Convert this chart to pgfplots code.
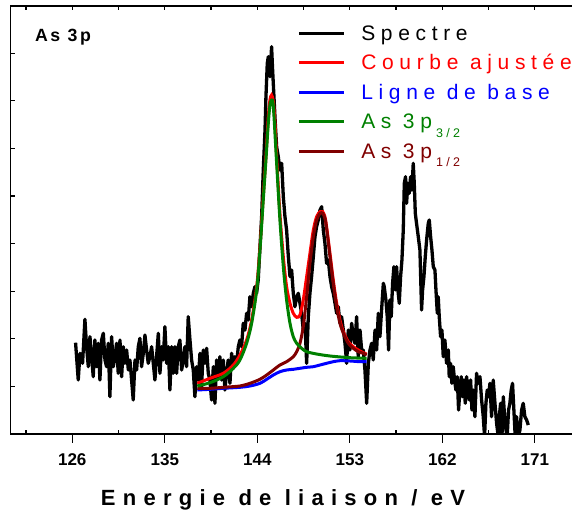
\documentclass[border=0pt]{standalone}
\usepackage{pgfplots}
\pgfplotsset{compat=1.18}
\usepackage{fontspec}
\setmainfont{Liberation Sans}
\newfontfamily\legfont{Liberation Sans}[LetterSpace=27]
\newfontfamily\labfont{Liberation Sans}[LetterSpace=33]
\newfontfamily\asfont{Liberation Sans}[LetterSpace=14]
\definecolor{fitgreen}{RGB}{0,128,0}
\definecolor{fitbrown}{RGB}{128,0,0}
\definecolor{fitred}{RGB}{255,0,0}
\definecolor{fitblue}{RGB}{0,0,255}
\pgfplotsset{
 base/.style={scale only axis, width=570.5pt, height=428pt,
   xmin=120, xmax=175.5, ymin=0, ymax=428,
   axis line style={line width=1.2pt},
   tick style={line width=1.2pt, black},
   /pgf/number format/assume math mode=true},
}
\begin{document}
\begin{tikzpicture}
\path[use as bounding box] (-10.6pt,-75pt) rectangle (561.4pt,434pt);
\begin{axis}[base,
  xtick={121.5,126,130.5,135,139.5,144,148.5,153,157.5,162,166.5,171,175.5},
  xticklabels={}, xtick pos=right,
  ytick={47.6,95.2,142.8,190.4,238,285.6,333.2,380.8}, yticklabels={}, ytick pos=left,
  tick align=inside, major tick length=4pt,
  legend image code/.code={\draw[#1] (0pt,0pt) -- (45pt,0pt);},
  legend style={draw=none, fill=none, inner sep=0pt, outer sep=0pt,
    at={(axis description cs:0,1)}, anchor=north west, xshift=286.7pt, yshift=-18.5pt,
    row sep=12pt, column sep=16pt,
    nodes={inner sep=0pt, text height=16pt}},
  legend cell align=left,
]
\addlegendimage{black, line width=3pt}
\addlegendentry{\legfont\fontsize{21}{21}\selectfont\rule[-4.5pt]{0pt}{0pt}Spectre}
\addlegendimage{fitred, line width=3pt}
\addlegendentry{\legfont\fontsize{21}{21}\selectfont\rule[-4.5pt]{0pt}{0pt}\textcolor{fitred}{Courbe ajustée}}
\addlegendimage{fitblue, line width=3pt}
\addlegendentry{\legfont\fontsize{21}{21}\selectfont\rule[-4.5pt]{0pt}{0pt}\textcolor{fitblue}{Ligne de base}}
\addlegendimage{fitgreen, line width=3pt}
\addlegendentry{\legfont\fontsize{21}{21}\selectfont\rule[-12.5pt]{0pt}{0pt}\textcolor{fitgreen}{As 3p\hspace{4pt}\raisebox{-8.4pt}{\fontsize{12.5}{12.5}\selectfont 3/2}}}
\addlegendimage{fitbrown, line width=3pt}
\addlegendentry{\legfont\fontsize{21}{21}\selectfont\rule[-4.5pt]{0pt}{0pt}\textcolor{fitbrown}{As 3p\hspace{4pt}\raisebox{-8.4pt}{\fontsize{12.5}{12.5}\selectfont 1/2}}}

% Spectre
\addplot[black, line width=3.3pt, line join=round, forget plot] coordinates {
(126.32,91.3)(126.58,54)(126.75,80.7)(127.00,70.7)(127.23,114.7)(127.39,87.3)(127.56,67.3)(127.72,97.3)(127.88,77.3)(128.04,57.3)(128.20,94)(128.37,67.3)(128.53,90.7)(128.69,54)(128.85,94)(129.02,100.7)(129.18,74)(129.34,67.3)(129.50,90.7)(129.66,37.3)(129.83,97.3)(129.99,67.3)(130.15,77.3)(130.31,90.7)(130.47,60.7)(130.64,94)(130.80,57.3)(130.96,87.3)(131.12,70.7)(131.29,84)(131.45,64)(131.61,74)(131.77,54)(131.93,34)(132.10,74)(132.26,64)(132.42,87.3)(132.58,95.7)(132.74,67.3)(132.91,80.7)(133.07,99)(133.23,84)(133.39,70.7)(133.55,77.3)(133.72,87.3)(133.88,70.7)(134.04,54)(134.20,77.3)(134.37,100.7)(134.53,60.7)(134.69,87.3)(134.85,74)(135.01,107.3)(135.18,70.7)(135.34,87.3)(135.50,44)(135.66,87.3)(135.82,60.7)(135.99,87.3)(136.15,60.7)(136.31,87.3)(136.47,94)(136.64,64)(136.80,74)(136.96,87.3)(137.12,67.3)(137.28,117.3)(137.45,94)(137.61,74)(137.77,64)(137.93,37.3)(138.09,67.3)(138.26,54)(138.42,80.7)(138.58,47.3)(138.74,84)(138.91,70.7)(139.07,85.7)(139.23,60.7)(139.39,54)(139.55,34)(139.72,67.3)(139.88,30.7)(140.04,74)(140.20,57.3)(140.36,77.3)(140.53,54)(140.69,74)(140.85,44)(141.01,60.7)(141.17,74)(141.34,50.7)(141.50,80.7)(141.66,67.3)(141.82,77.3)(141.99,70.7)(142.15,87.3)(142.31,94)(142.47,87.3)(142.63,110.7)(142.80,104)(142.96,120.7)(143.12,114)(143.28,137.3)(143.44,127.3)(143.61,140.7)(143.77,147.3)(143.93,140.7)(144.09,154)
(144.26,187.3)(144.42,217.3)(144.58,264)(144.75,304)(144.84,337.3)(144.97,370.7)(145.07,377.3)(145.23,357.3)(145.39,387.3)(145.49,364)(145.62,337.3)(145.75,310.7)(145.88,287.3)(146.04,277.3)(146.20,264)(146.37,270.7)(146.53,237.3)(146.69,217.3)(146.85,204)(147.02,177.3)(147.18,157.3)(147.34,164)(147.50,140.7)(147.66,127.3)(147.83,137.3)(147.99,140.7)(148.15,130.7)(148.31,120.7)(148.47,104)(148.64,110.7)(148.80,70.7)(148.96,117.3)(149.12,140.7)(149.28,157.3)(149.45,177.3)(149.61,197.3)(149.77,207.3)(149.93,214)(150.10,224)(150.26,227.3)(150.42,204)(150.58,190.7)(150.74,170.7)(150.91,174)(151.07,157.3)(151.23,147.3)(151.39,140.7)(151.56,130.7)(151.72,120.7)(151.88,127.3)(152.04,110.7)(152.20,117.3)(152.37,104)(152.53,90.7)(152.69,70.7)(152.85,104)(153.01,84)(153.18,110.7)(153.34,97.3)(153.50,90.7)(153.66,117.3)(153.82,77.3)(153.99,104)(154.15,84)(154.31,84)(154.47,64)(154.64,30.7)(154.80,70.7)(154.96,84)(155.12,90.7)(155.28,74)(155.45,104)(155.61,84)(155.77,120.7)(155.93,97.3)(156.09,124)(156.26,150.7)
(156.35,147.3)(156.51,134)(156.64,117.3)(156.77,84)(156.90,134)(157.03,117.3)(157.16,150.7)(157.29,167.3)(157.42,144)(157.55,167.3)(157.68,144)(157.81,130.7)(157.94,157.3)(158.07,174)(158.20,204)(158.30,250.7)(158.42,257.3)(158.52,230.7)(158.65,250.7)(158.78,240.7)(158.91,257.3)(159.04,244)(159.17,270.7)(159.27,250.7)(159.37,220.7)(159.49,210.7)(159.66,197.3)(159.82,184)(159.98,124)(160.08,144)(160.21,157.3)(160.34,177.3)(160.47,194)(160.63,210.7)(160.73,214)(160.86,197.3)(160.99,184)(161.12,167.3)(161.28,164)(161.38,144)(161.51,120.7)(161.60,137.3)(161.70,117.3)(161.83,97.3)(161.96,104)(162.09,77.3)(162.25,94)(162.41,70.7)(162.58,84)(162.67,57.3)(162.80,70.7)(162.93,50.7)(163.06,67.3)(163.19,54)(163.32,44)(163.45,57.3)(163.58,24)(163.71,44)(163.84,57.3)(163.97,37.3)(164.10,54)(164.23,30.7)(164.36,57.3)(164.49,44)(164.62,34)(164.75,54)(164.88,24)(165.01,44)(165.17,17.3)(165.33,60.7)(165.49,50.7)(165.66,57.3)(165.82,34)(165.98,17.3)(166.11,-2.7)(166.24,30.7)(166.37,44)(166.50,37.3)(166.63,50.7)(166.79,17.3)(166.95,54)(167.12,30.7)(167.28,10.7)(167.44,-2.7)(167.54,17.3)(167.67,30.7)(167.80,-2.7)(167.93,37.3)(168.06,17.3)(168.19,4)(168.31,-2.7)(168.44,24)(168.57,30.7)(168.70,44)(168.83,50.7)(168.96,24)(169.09,-2.7)(169.22,17.3)(169.38,-2.7)(169.55,4)(169.71,24)(169.87,30.7)(170.03,17.3)(170.20,14)(170.36,9)
};
% Courbe ajustee
\addplot[fitred, line width=3pt, smooth, forget plot] coordinates {
(138.16,50.7)(139.40,55.7)(140.69,60.7)(141.67,69)(142.31,79)(142.96,94)(143.45,114)(143.94,147.3)(144.26,187.3)(144.58,237.3)(144.84,277.3)(145.07,317.3)(145.23,334)(145.39,339)(145.56,332.3)(145.72,310.7)(145.88,277.3)(146.20,220.7)(146.53,177.3)(146.85,147.3)(147.18,130.7)(147.50,120.7)(147.83,116.7)(148.15,119)(148.47,134)(148.80,157.3)(149.12,180.7)(149.45,204)(149.77,217.3)(150.10,222.3)(150.36,222.3)(150.58,217.3)(150.74,207.3)(151.07,180.7)(151.39,154)(151.72,130.7)(152.04,114)(152.37,102.3)(152.85,92.3)(153.34,87.3)(153.82,84)(154.31,81.3)(154.64,80)
};
% Ligne de base
\addplot[fitblue, line width=3pt, smooth, forget plot] coordinates {
(138.16,44)(139.40,44.7)(140.69,45.7)(142.31,46.7)(143.29,48)(144.26,50.7)(144.91,54.7)(145.56,59)(146.20,62.3)(146.85,64)(147.50,64.7)(148.15,65.7)(148.80,66.7)(149.45,67.3)(150.10,69)(150.74,70.7)(151.39,72.3)(152.04,73.3)(153.01,73)(153.99,72.3)(154.64,72.3)
};
% As 3p1/2
\addplot[fitbrown, line width=3pt, smooth, forget plot] coordinates {
(138.16,45.7)(139.40,45.7)(140.69,46.7)(142.31,48)(143.29,50.7)(144.26,54.7)(144.91,59)(145.56,64)(146.20,69)(146.85,72.3)(147.50,77.3)(147.83,82.3)(148.15,90.7)(148.47,107.3)(148.80,137.3)(149.12,170.7)(149.45,197.3)(149.77,214)(150.10,220.7)(150.36,220.7)(150.58,215.7)(150.74,205.7)(151.07,177.3)(151.39,150.7)(151.72,127.3)(152.04,110.7)(152.37,100.7)(152.85,90.7)(153.34,85.7)(153.82,82.3)(154.31,80.7)(154.64,79)
};
% As 3p3/2
\addplot[fitgreen, line width=3pt, smooth, forget plot] coordinates {
(138.16,48)(139.40,51.3)(140.69,57.3)(141.67,65.7)(142.31,74)(142.96,90.7)(143.45,110.7)(143.94,144)(144.26,184)(144.58,234)(144.84,274)(145.07,310.7)(145.23,329)(145.39,334)(145.56,327.3)(145.88,270.7)(146.20,214)(146.53,167.3)(146.85,134)(147.18,110.7)(147.50,97.3)(147.83,90.7)(148.31,85.7)(148.80,82.3)(149.77,80)(151.07,78)(153.01,76.3)(154.64,75.7)
};
\node[anchor=base west, inner sep=0pt,
  font=\asfont\bfseries\fontsize{17.7}{18}\selectfont] at (axis description cs:0.0428,0.918) {As 3p};
\end{axis}
\begin{axis}[base, axis line style={draw=none},
  xtick={121.5,130.5,139.5,148.5,157.5,166.5,175.5}, xticklabels={}, xtick pos=left,
  ytick=\empty, tick align=inside, major tick length=4pt]
\end{axis}
\begin{axis}[base, axis line style={draw=none},
  xtick={126,135,144,153,162,171}, xtick pos=left, ytick=\empty,
  tick align=outside, major tick length=8.5pt,
  xticklabel style={font=\bfseries\fontsize{17}{17}\selectfont, yshift=-8pt},
  xlabel={Energie de liaison / eV},
  xlabel style={font=\labfont\bfseries\fontsize{22}{22}\selectfont,
    at={(axis description cs:0,0)}, anchor=base west, inner sep=0pt,
    xshift=90.1pt, yshift=-71.7pt}]
\end{axis}
\end{tikzpicture}
\end{document}
